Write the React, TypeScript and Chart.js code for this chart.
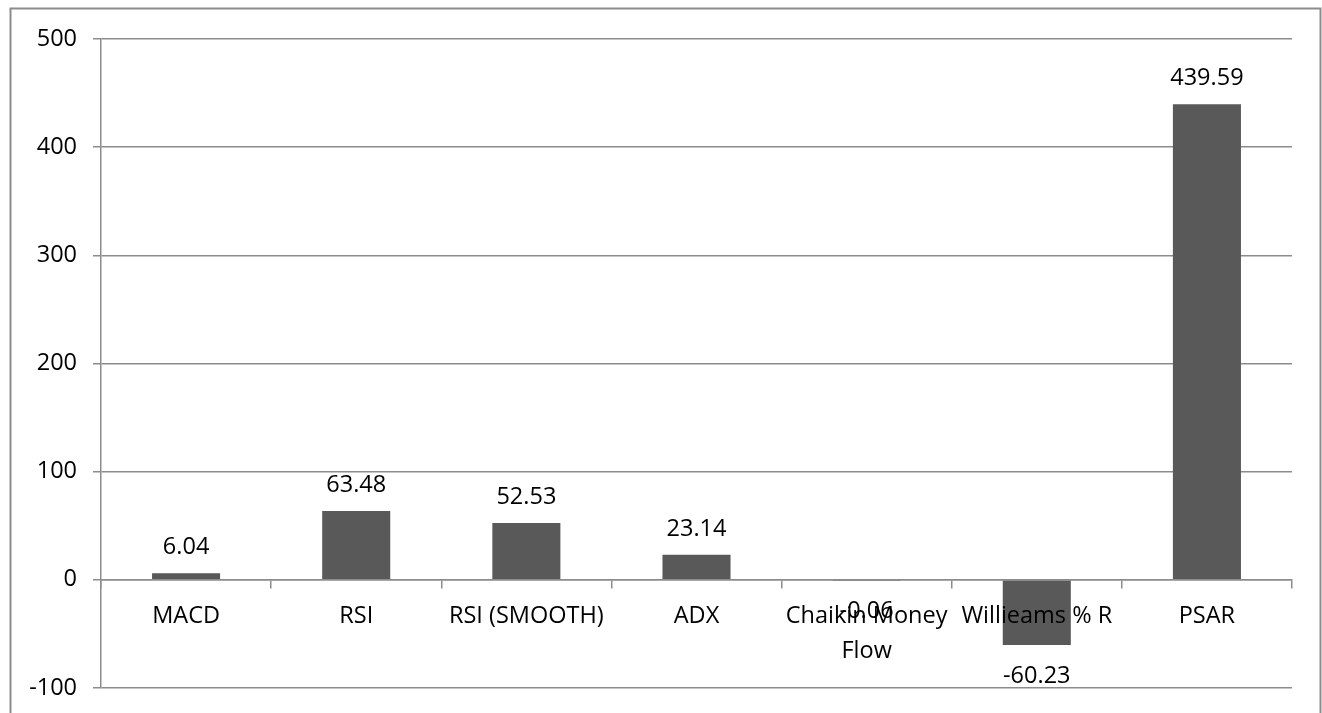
import { useEffect, useRef } from "react";
import { Chart, registerables } from "chart.js";

Chart.register(...registerables);

// Indicator names (multi-line labels are arrays) and their latest readings
const categories: (string | string[])[] = [
  "MACD",
  "RSI",
  "RSI (SMOOTH)",
  "ADX",
  ["Chaikin Money", "Flow"],
  "Willieams % R",
  "PSAR",
];
const values: number[] = [6.04, 63.48, 52.53, 23.14, -0.06, -60.23, 439.59];

// Value axis range and tick step
const yMin = -100;
const yMax = 500;
const yStep = 100;

const FONT = '"Open Sans", "Noto Sans", sans-serif';
const FONT_SIZE = 23.5;
const LINE = "#8c8c8c";
const BAR = "#595959";

// The canvas runs a little past the bottom of the visible frame
const VIEW_W = 1322;
const VIEW_H = 713;
const CANVAS_H = 718;

// White background plus the grey frame around the whole chart
const framePlugin = {
  id: "frame",
  beforeDraw(chart: any) {
    const ctx = chart.ctx;
    ctx.save();
    ctx.fillStyle = "#ffffff";
    ctx.fillRect(0, 0, chart.width, chart.height);
    ctx.strokeStyle = LINE;
    ctx.lineWidth = 2;
    ctx.strokeRect(10.5, 8.5, chart.width - 12, chart.height + 40);
    ctx.restore();
  },
};

// Value labels above positive bars and below negative ones
const valueLabelPlugin = {
  id: "valueLabels",
  afterDraw(chart: any) {
    const ctx = chart.ctx;
    const meta = chart.getDatasetMeta(0);
    const data = chart.data.datasets[0].data as number[];
    ctx.save();
    ctx.font = `${FONT_SIZE}px ${FONT}`;
    ctx.fillStyle = "#000000";
    ctx.textAlign = "center";
    ctx.textBaseline = "alphabetic";
    meta.data.forEach((bar: any, i: number) => {
      const v = data[i];
      const { x, y } = bar.getProps(["x", "y"], true);
      const ty = v >= 0 ? y - 19 : y + 38;
      ctx.fillText(v.toFixed(2), x, ty);
    });
    ctx.restore();
  },
};

export default function App() {
  const canvasRef = useRef<HTMLCanvasElement | null>(null);

  useEffect(() => {
    const canvas = canvasRef.current;
    if (!canvas) return;
    const chart = new Chart(canvas, {
      type: "bar",
      data: {
        labels: categories,
        datasets: [
          {
            data: values,
            backgroundColor: BAR,
            borderWidth: 0,
            barPercentage: 0.4,
            categoryPercentage: 1.0,
          },
        ],
      },
      options: {
        responsive: false,
        animation: false,
        devicePixelRatio: 1,
        layout: { padding: { left: 0, top: 39, right: 30, bottom: 21 } },
        plugins: {
          legend: { display: false },
          tooltip: { enabled: false },
        },
        scales: {
          x: {
            type: "category",
            position: { y: 0 },
            offset: true,
            grid: {
              drawOnChartArea: false,
              drawTicks: true,
              tickLength: 8,
              offset: true,
              color: LINE,
              lineWidth: 1.5,
              z: 1,
            },
            border: { color: LINE, width: 1.5, z: 1 },
            ticks: {
              color: "#000000",
              font: { family: FONT, size: FONT_SIZE, lineHeight: 1.45 },
              padding: 12,
              maxRotation: 0,
              minRotation: 0,
              autoSkip: false,
              z: 1,
            },
          },
          y: {
            min: yMin,
            max: yMax,
            ticks: {
              stepSize: yStep,
              color: "#000000",
              font: { family: FONT, size: FONT_SIZE },
              padding: 16,
            },
            grid: { color: LINE, lineWidth: 1.5, tickLength: 8 },
            border: { color: LINE, width: 1.5 },
            afterFit: (scale: any) => {
              scale.width = 101;
            },
          },
        },
      } as any,
      plugins: [framePlugin, valueLabelPlugin],
    });
    return () => chart.destroy();
  }, []);

  return (
    <div
      style={{
        position: "absolute",
        left: 0,
        top: 0,
        width: VIEW_W,
        height: VIEW_H,
        overflow: "hidden",
        background: "#ffffff",
      }}
    >
      <canvas
        ref={canvasRef}
        width={VIEW_W}
        height={CANVAS_H}
        style={{ display: "block", width: VIEW_W, height: CANVAS_H }}
      />
    </div>
  );
}
